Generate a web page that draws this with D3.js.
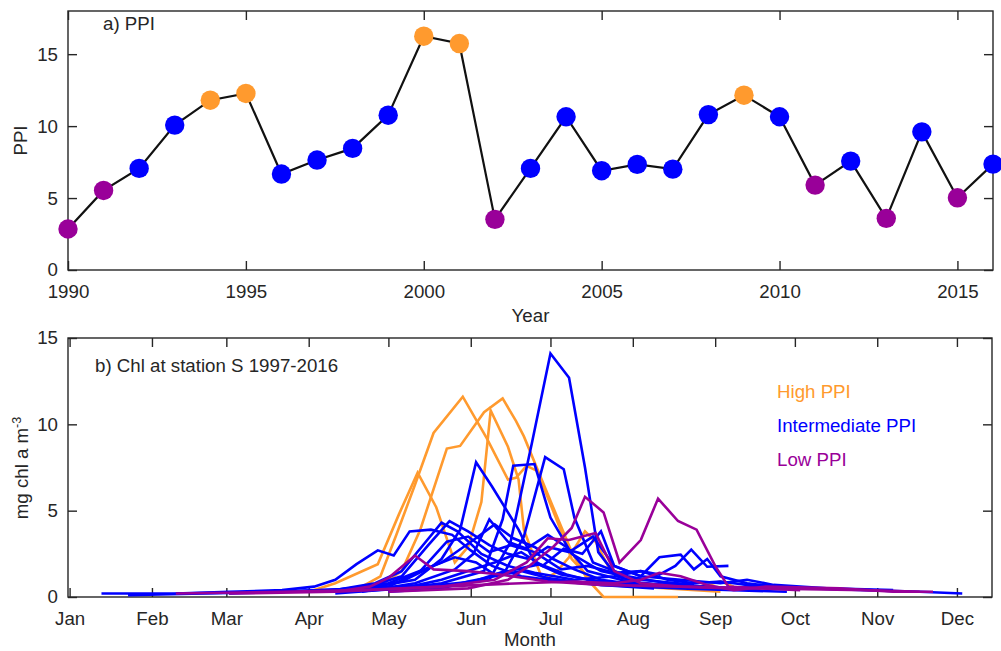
<!DOCTYPE html>
<html>
<head>
<meta charset="utf-8">
<script src="https://cdn.jsdelivr.net/npm/d3@7"></script>
<style>
  html, body { margin: 0; padding: 0; background: #fff; }
  svg { display: block; }
  text { font-family: "Liberation Sans", Arial, Helvetica, sans-serif; fill: #262626; }
</style>
</head>
<body>
<svg id="chart" width="1001" height="651"></svg>
<script>
// ---------- Panel a) PPI ----------
const years = [1990,1991,1992,1993,1994,1995,1996,1997,1998,1999,2000,2001,2002,2003,2004,2005,2006,2007,2008,2009,2010,2011,2012,2013,2014,2015,2016];
const ppi = [2.85,5.53,7.06,10.07,11.8,12.27,6.67,7.64,8.45,10.76,16.25,15.74,3.52,7.06,10.65,6.9,7.34,7.01,10.8,12.15,10.65,5.9,7.57,3.59,9.6,5.02,7.36];
const ppiClass = ["low","low","mid","mid","high","high","mid","mid","mid","mid","high","high","low","mid","mid","mid","mid","mid","mid","high","mid","low","mid","low","mid","low","mid"];
const yearTicks = [1990,1995,2000,2005,2010,2015];
const ppiTicks = [0,5,10,15];

// ---------- Panel b) Chl (day of year, mg chl a m^-3) ----------
const monthTicks = [0,31,59,90,120,151,181,212,243,273,304,334];
const monthLabels = ["Jan","Feb","Mar","Apr","May","Jun","Jul","Aug","Sep","Oct","Nov","Dec"];
const chlTicks = [0,5,10,15];

const chlHigh = [
  [[100,0.3],[110,0.6],[117,1.2],[123,3.6],[130,6.5],[137,9.5],[148,11.6],[157,9.2],[165,6.8],[168,6.9],[172,7.6],[176,7.3],[183,4.6],[189,2.2],[195,1.2],[205,0.7],[225,0.5],[245,0.3]],
  [[100,0.3],[115,0.5],[125,1.5],[132,3.9],[142,8.6],[147,8.75],[156,10.7],[163,11.5],[168,10.2],[171,9.3],[182,5.2],[189,2.6],[195,1.0],[201,0],[229,0]],
  [[90,0.3],[100,0.8],[116,1.9],[124,4.8],[131,7.2],[138,5.2],[145,2.0],[150,2.9],[155,5.5],[158.5,10.8],[165,8.7],[169,6.8],[171,3.9],[178,1.0],[183,1.4],[188,2.3],[194,3.8],[198,3.2],[204,1.4],[212,0.8],[225,0.6],[235,0.5],[245,0.9],[250,0.6]]
];
const chlMid = [
  [[40,0.2],[80,0.3],[110,0.5],[140,0.7],[158,1.0],[166,3.2],[174,8.9],[181,14.1],[188,12.7],[194,7.5],[199,2.6],[206,1.2],[215,0.8],[230,0.6],[245,0.5]],
  [[100,0.3],[125,0.5],[150,0.8],[164,1.5],[171,3.5],[179,8.1],[186,7.4],[190,4.6],[197,2.0],[210,1.2],[225,0.8],[245,0.5]],
  [[95,0.3],[115,0.6],[130,1.0],[140,2.2],[147,3.9],[153,7.8],[159,6.4],[169,3.9],[175,2.0],[185,1.3],[200,0.9],[220,0.7],[240,0.5]],
  [[105,0.3],[125,0.5],[140,0.8],[156,1.5],[163,4.5],[167,7.6],[175,7.7],[181,4.6],[189,2.5],[200,1.5],[215,1.0],[235,0.7]],
  [[12,0.2],[40,0.2],[60,0.3],[80,0.4],[92,0.6],[100,1.0],[108,1.9],[116,2.7],[122,2.4],[128,3.8],[136,3.9],[144,3.6],[151,2.7],[159,1.8],[170,1.2],[185,0.9],[200,0.7],[220,0.5]],
  [[22,0.1],[50,0.2],[80,0.3],[100,0.4],[115,0.8],[125,1.5],[133,3.0],[140,4.3],[146,3.8],[155,2.5],[165,1.8],[175,1.4],[190,1.0],[205,1.2],[215,1.5],[225,1.0],[235,0.8],[245,0.9],[260,0.6],[280,0.5],[300,0.4],[320,0.3],[336,0.2]],
  [[90,0.3],[110,0.5],[125,1.2],[135,3.0],[143,4.4],[150,3.8],[158,3.0],[165,2.5],[173,2.2],[180,2.9],[188,2.6],[197,3.5],[205,1.8],[215,1.2],[222,2.3],[230,2.45],[235,1.6],[240,2.2],[245,1.2],[255,0.8],[270,0.5]],
  [[100,0.3],[120,0.6],[132,1.5],[142,3.2],[150,3.5],[158,2.6],[166,3.0],[175,2.6],[185,1.6],[195,1.8],[205,1.4],[215,1.5],[222,1.3],[228,1.8],[234,2.75],[240,1.75],[248,1.8]],
  [[60,0.2],[100,0.4],[120,0.8],[140,2.0],[152,3.3],[160,4.2],[167,3.4],[175,2.9],[182,2.2],[190,1.6],[200,1.0],[210,0.8],[225,0.7],[240,0.6],[250,0.5],[260,0.7],[275,0.5]],
  [[110,0.3],[130,0.8],[145,1.6],[152,2.5],[158,4.5],[165,3.2],[172,2.8],[180,3.6],[187,2.9],[195,1.5],[210,0.9],[230,0.6],[250,0.5]],
  [[100,0.2],[125,0.5],[140,1.0],[150,1.5],[160,2.0],[170,2.6],[178,1.8],[186,2.8],[193,2.5],[200,3.8],[205,1.8],[215,1.2],[230,1.0],[245,0.8],[255,1.0],[265,0.7],[285,0.5],[310,0.4]],
  [[80,0.3],[110,0.5],[125,0.9],[137,1.8],[145,2.3],[153,2.0],[160,1.3],[168,1.6],[177,1.9],[187,1.3],[200,0.8],[220,0.6],[240,0.5],[260,0.4]],
  [[120,0.3],[140,0.5],[150,0.9],[160,1.2],[170,1.5],[180,1.1],[190,0.9],[200,0.7],[215,0.6],[230,0.5],[250,0.4],[270,0.3]]
];
const chlLow = [
  [[120,0.3],[150,0.5],[165,1.0],[173,1.8],[182,2.9],[189,4.0],[194,5.8],[201,4.9],[207,2.0],[215,3.3],[221.5,5.7],[229,4.4],[236,3.9],[243,1.8],[248,0.6],[260,0.5],[275,0.4]],
  [[100,0.3],[140,0.6],[160,1.0],[172,2.0],[180,3.4],[188,3.3],[198,3.7],[205,1.5],[215,0.8],[230,0.6],[250,0.5]],
  [[60,0.2],[100,0.3],[113,0.6],[120,1.1],[130,2.4],[137,1.6],[150,1.5],[162,1.3],[180,0.9],[200,0.7],[230,0.6],[260,0.5],[300,0.4],[320,0.3]],
  [[40,0.2],[80,0.3],[110,0.4],[140,0.6],[170,0.8],[190,0.9],[205,0.8],[215,1.0],[222,1.4],[230,1.2],[240,0.7],[250,0.4],[262,0.6],[290,0.5],[310,0.3],[325,0.3]]
];
const legendLabels = ["High PPI","Intermediate PPI","Low PPI"];

// ---------- styling ----------
const colors = { high: "#FF9A2E", mid: "#0000FF", low: "#990099" };
const axisColor = "#262626";
const fontSize = 18.7;

const svg = d3.select("#chart");
svg.append("rect").attr("width",1001).attr("height",651).attr("fill","#fff");

function frameAxes(g, x, y, xTicks, yTicks, xFmt, w, h) {
  const tick = 9;
  g.append("g").attr("transform",`translate(0,${h})`)
    .call(d3.axisBottom(x).tickValues(xTicks).tickFormat(xFmt).tickSizeInner(-tick).tickSizeOuter(0).tickPadding(15));
  g.append("g")
    .call(d3.axisTop(x).tickValues(xTicks).tickFormat("").tickSizeInner(-tick).tickSizeOuter(0));
  g.append("g")
    .call(d3.axisLeft(y).tickValues(yTicks).tickSizeInner(-tick).tickSizeOuter(0).tickPadding(10));
  g.append("g").attr("transform",`translate(${w},0)`)
    .call(d3.axisRight(y).tickValues(yTicks).tickFormat("").tickSizeInner(-tick).tickSizeOuter(0));
  g.selectAll(".domain").remove();
  g.selectAll(".tick line").attr("stroke",axisColor).attr("stroke-width",1.4);
  g.selectAll(".tick text").attr("font-size",fontSize).attr("fill",axisColor)
    .attr("font-family",'"Liberation Sans", Arial, Helvetica, sans-serif');
  g.append("rect").attr("width",w).attr("height",h)
    .attr("fill","none").attr("stroke",axisColor).attr("stroke-width",1.4);
}

// ---------- Panel a ----------
const A = { left: 68, top: 11, w: 925, h: 259 };
const ga = svg.append("g").attr("transform",`translate(${A.left},${A.top})`);
const xa = d3.scaleLinear().domain([1990,2016]).range([0,A.w]);
const ya = d3.scaleLinear().domain([0,18]).range([A.h,0]);
frameAxes(ga, xa, ya, yearTicks, ppiTicks, d3.format("d"), A.w, A.h);

const ppiData = years.map((yr,i)=>({year:yr, v:ppi[i], c:ppiClass[i]}));
ga.append("path").datum(ppiData)
  .attr("fill","none").attr("stroke","#111").attr("stroke-width",2.2)
  .attr("d", d3.line().x(d=>xa(d.year)).y(d=>ya(d.v)));
ga.selectAll("circle").data(ppiData).join("circle")
  .attr("cx",d=>xa(d.year)).attr("cy",d=>ya(d.v)).attr("r",9.7)
  .attr("fill",d=>colors[d.c]);

ga.append("text").attr("x",103-A.left).attr("y",30-A.top).attr("font-size",fontSize).text("a) PPI");
svg.append("text").attr("x",A.left+A.w/2).attr("y",322).attr("text-anchor","middle")
  .attr("font-size",fontSize).text("Year");
svg.append("text").attr("transform",`translate(27,${A.top+A.h/2}) rotate(-90)`)
  .attr("text-anchor","middle").attr("font-size",fontSize).text("PPI");

// ---------- Panel b ----------
const B = { left: 68, top: 338, w: 924, h: 259 };
const gb = svg.append("g").attr("transform",`translate(${B.left},${B.top})`);
const xb = d3.scaleLinear().domain([-0.6,347.2]).range([0,B.w]);
const yb = d3.scaleLinear().domain([0,15]).range([B.h,0]);
frameAxes(gb, xb, yb, monthTicks, chlTicks, (d,i)=>monthLabels[i], B.w, B.h);

const lineB = d3.line().x(d=>xb(d[0])).y(d=>yb(d[1]));
const groups = [
  {data: chlHigh, c: colors.high},
  {data: chlMid, c: colors.mid},
  {data: chlLow, c: colors.low}
];
groups.forEach(gr=>{
  gb.append("g").selectAll("path").data(gr.data).join("path")
    .attr("fill","none").attr("stroke",gr.c).attr("stroke-width",2.6)
    .attr("stroke-linejoin","miter").attr("d",lineB);
});

gb.append("text").attr("x",95-B.left).attr("y",372-B.top).attr("font-size",fontSize)
  .text("b) Chl at station S 1997-2016");
const legY = [398,432,466];
const legC = [colors.high, colors.mid, colors.low];
legendLabels.forEach((t,i)=>{
  svg.append("text").attr("x",777).attr("y",legY[i]).attr("font-size",fontSize)
    .style("fill",legC[i]).text(t);
});
svg.append("text").attr("x",B.left+B.w/2).attr("y",646).attr("text-anchor","middle")
  .attr("font-size",fontSize).text("Month");
const yl = svg.append("text").attr("transform",`translate(28,468) rotate(-90)`)
  .attr("text-anchor","middle").attr("font-size",fontSize);
yl.append("tspan").text("mg chl a m");
yl.append("tspan").attr("dy",-7).attr("font-size",12.5).text("-3");
</script>
</body>
</html>
